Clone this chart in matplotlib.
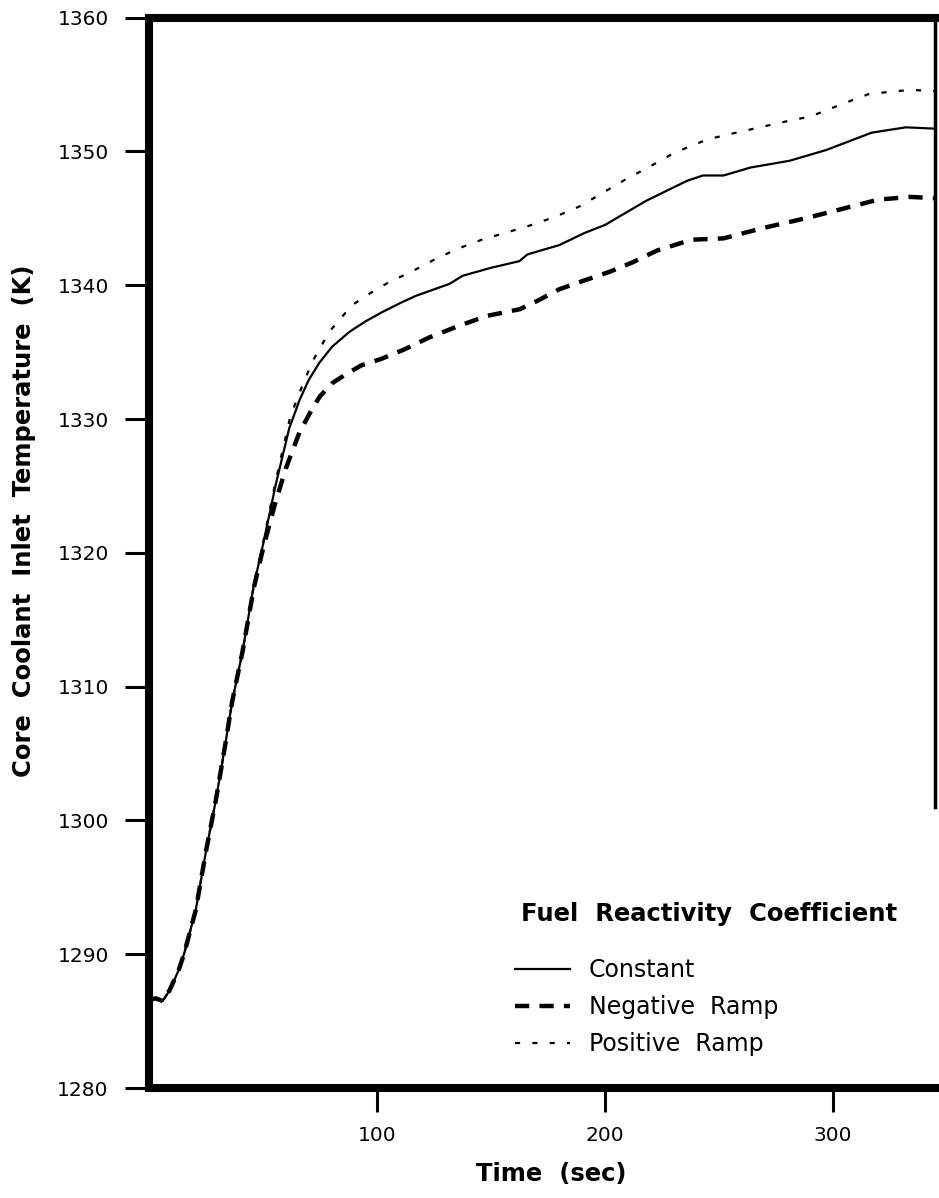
"""Core coolant inlet temperature vs time for three fuel reactivity coefficient cases."""

import matplotlib
matplotlib.use("Agg")
import matplotlib.pyplot as plt

plt.rcParams["font.family"] = ["DejaVu Sans"]

# time (sec) / temperature (K)
t_const = [0, 3, 6, 9, 13, 15.5, 20.5, 25, 29.3, 33, 36.5, 41, 46, 50,
           55.6, 61.5, 66, 70, 74.7, 80.3, 87.8, 95, 102.4, 110.6, 117,
           131.8, 137.5, 150, 162.5, 166, 180, 191, 200, 218, 236, 243,
           252, 264, 281, 297, 317, 332, 345]
T_const = [1286.6, 1286.7, 1286.5, 1287.3, 1288.8, 1290.1, 1293.3, 1297.7,
           1301.5, 1305.2, 1308.9, 1312.6, 1317.6, 1320.6,
           1325.1, 1329.3, 1331.4, 1332.9, 1334.2, 1335.4, 1336.5, 1337.3,
           1338.0, 1338.7, 1339.2, 1340.1, 1340.7, 1341.3, 1341.8, 1342.3,
           1343.0, 1343.9, 1344.5, 1346.3, 1347.8, 1348.2, 1348.2, 1348.8,
           1349.3, 1350.1, 1351.4, 1351.8, 1351.7]

t_neg = [0, 3, 6, 9, 13, 15.5, 20.5, 25, 29.3, 33, 36.5, 41, 46, 50,
         55, 60, 66, 71.7, 75, 80.5, 86, 93, 102, 112, 123, 135, 148,
         162.5, 170, 180, 190, 202, 212, 223, 238, 252, 270, 288, 304,
         320, 334, 345]
T_neg = [1286.6, 1286.7, 1286.5, 1287.3, 1288.8, 1290.1, 1293.3, 1297.7,
         1301.5, 1305.2, 1308.9, 1312.6, 1317.4, 1320.3,
         1323.5, 1326.3, 1329.0, 1330.8, 1331.7, 1332.7, 1333.3, 1334.0,
         1334.5, 1335.2, 1336.1, 1336.9, 1337.7, 1338.2, 1338.8, 1339.7,
         1340.3, 1341.0, 1341.7, 1342.6, 1343.4, 1343.5, 1344.3, 1345.0,
         1345.7, 1346.4, 1346.6, 1346.5]

t_pos = [0, 3, 6, 9, 13, 15.5, 20.5, 25, 29.3, 33, 36.5, 41, 46, 50,
         55.6, 62, 67.3, 71.7, 79, 85.5, 89, 97, 105, 115, 125, 135, 146,
         156, 166, 178, 189, 200, 209, 220, 230.5, 245, 255, 268, 281,
         290, 305, 316, 334, 345]
T_pos = [1286.6, 1286.7, 1286.5, 1287.3, 1288.8, 1290.1, 1293.3, 1297.7,
         1301.5, 1305.2, 1308.9, 1312.6, 1317.6, 1320.7,
         1325.4, 1330.2, 1332.5, 1334.3, 1336.5, 1337.8, 1338.5, 1339.4,
         1340.2, 1341.0, 1341.9, 1342.7, 1343.4, 1343.9, 1344.4, 1345.1,
         1345.9, 1347.0, 1347.9, 1348.9, 1349.9, 1350.9, 1351.3, 1351.8,
         1352.3, 1352.6, 1353.6, 1354.3, 1354.6, 1354.5]

y_ticks = [1280, 1290, 1300, 1310, 1320, 1330, 1340, 1350, 1360]
x_ticks = [100, 200, 300]

fig = plt.figure(figsize=(9.39, 11.98), dpi=100)
ax = fig.add_axes([0.1587, 0.0918, 0.8375, 0.8935])

ax.plot(t_const, T_const, color="black", lw=1.6, label="Constant")
ax.plot(t_neg, T_neg, color="black", lw=3.2, dashes=(3.2, 2.3),
        label="Negative  Ramp")
ax.plot(t_pos, T_pos, color="black", lw=1.6, dashes=(2.3, 5.5),
        label="Positive  Ramp")

ax.set_xlim(0, 345)
ax.set_ylim(1280, 1360)
ax.set_xticks(x_ticks)
ax.set_yticks(y_ticks)
ax.set_yticklabels([str(v) for v in y_ticks])

for side in ["left", "bottom", "top"]:
    ax.spines[side].set_linewidth(5.8)
ax.spines["right"].set_linewidth(2.5)
ax.spines["right"].set_bounds(1301, 1360)

ax.tick_params(direction="out", length=17, width=2.2, labelsize=14.5)
ax.tick_params(axis="y", pad=12)
ax.tick_params(axis="x", pad=10)
ax.tick_params(top=False, right=False)

ax.set_xlabel("Time  (sec)", fontsize=17.5, fontweight="bold")
ax.xaxis.set_label_coords((551 - 149) / 786, (1088 - 1162) / 1070)
ax.set_ylabel("Core  Coolant  Inlet  Temperature  (K)", fontsize=17.5,
              fontweight="bold")
ax.yaxis.set_label_coords((36 - 149) / 786, 0.53)

fig.text(521 / 939, 1 - 914 / 1198, "Fuel  Reactivity  Coefficient",
         fontsize=17.5, fontweight="bold", va="center", ha="left")
ax.legend(loc="upper left", bbox_to_anchor=(515 / 939, 1 - 958 / 1198),
          bbox_transform=fig.transFigure, frameon=False, fontsize=17,
          handlelength=2.33, handletextpad=0.8, labelspacing=0.55,
          borderpad=0, borderaxespad=0)

fig.savefig("out.png", dpi=100)
